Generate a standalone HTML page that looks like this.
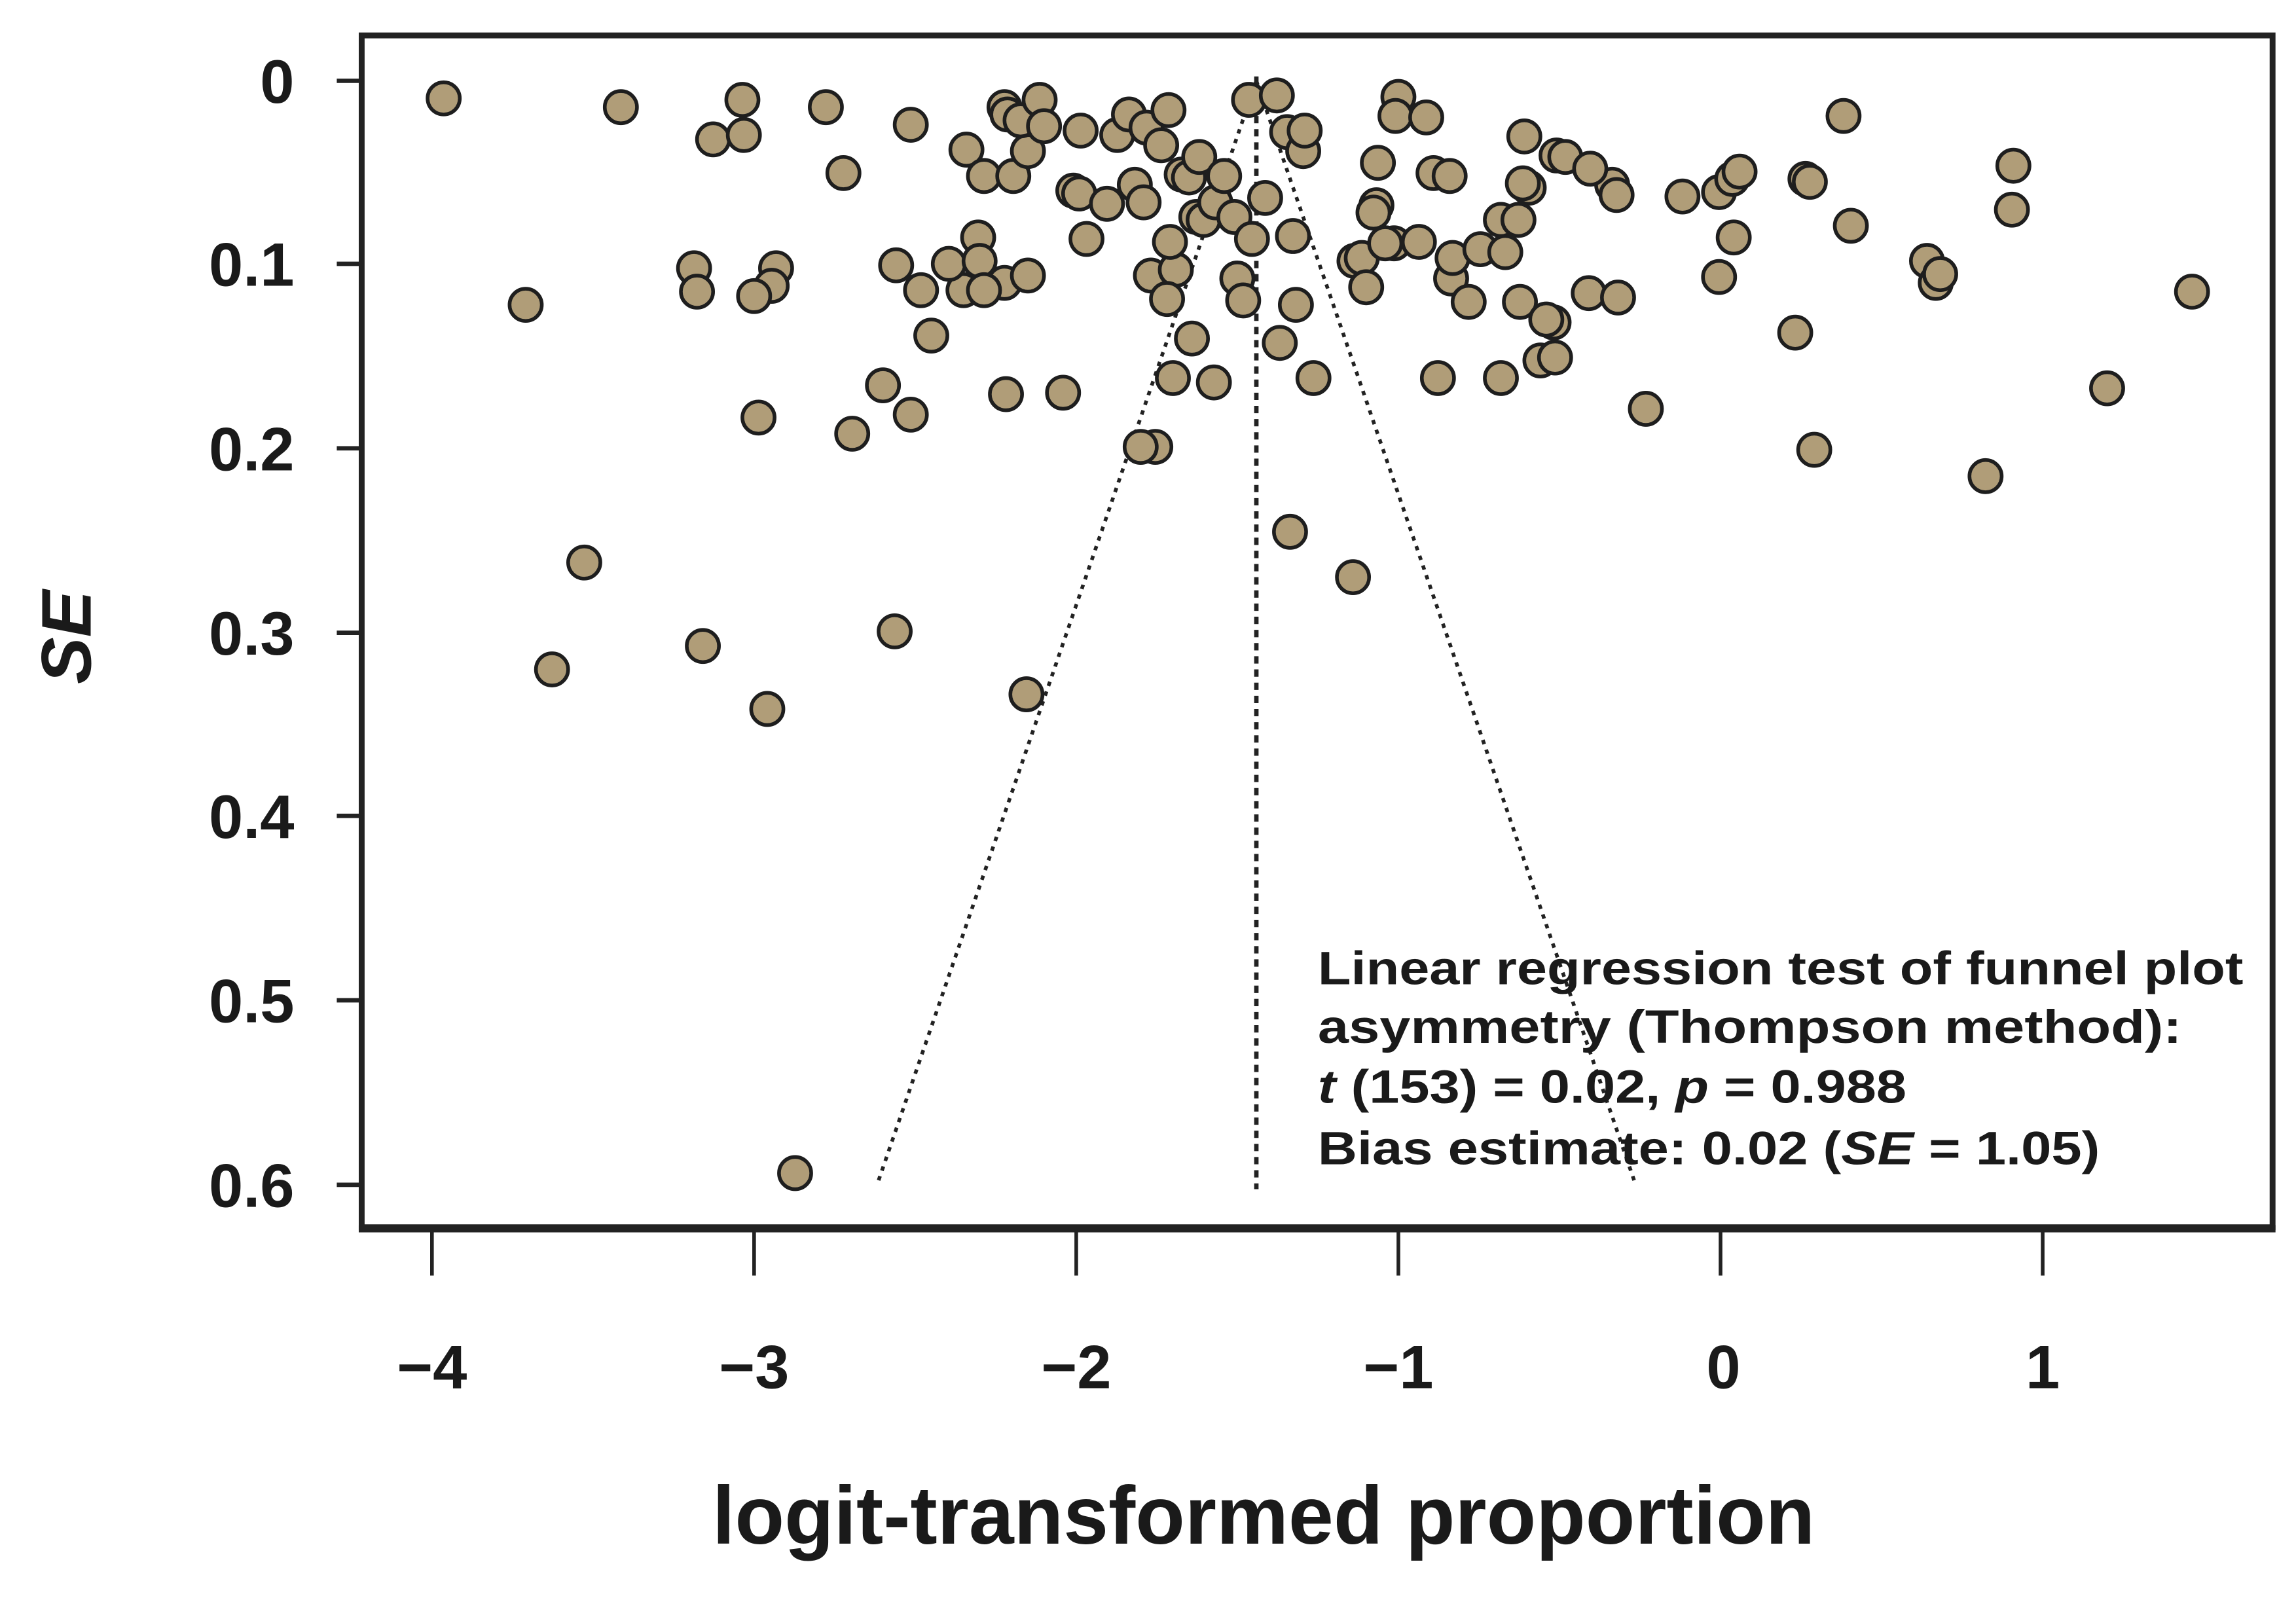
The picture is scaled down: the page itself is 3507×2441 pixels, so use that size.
<!DOCTYPE html>
<html><head><meta charset="utf-8"><style>html,body{margin:0;padding:0;background:#fff}svg{display:block}</style></head>
<body>
<svg width="3507" height="2441" viewBox="0 0 1568 1091" xmlns="http://www.w3.org/2000/svg" font-family="Liberation Sans, sans-serif" font-weight="bold" fill="#1a1a1a">
<rect x="0" y="0" width="1568" height="1091" fill="#fff"/>
<rect x="247" y="24" width="1305" height="814" fill="none" stroke="#222" stroke-width="4"/>
<line x1="245" y1="839" x2="1554" y2="839" stroke="#222" stroke-width="5"/>
<g stroke="#222" stroke-width="3">
<line x1="230" y1="55" x2="247" y2="55"/><line x1="230" y1="180" x2="247" y2="180"/><line x1="230" y1="306" x2="247" y2="306"/><line x1="230" y1="432" x2="247" y2="432"/><line x1="230" y1="557" x2="247" y2="557"/><line x1="230" y1="683" x2="247" y2="683"/><line x1="230" y1="809" x2="247" y2="809"/>
</g>
<g stroke="#222" stroke-width="2.5">
<line x1="295" y1="841" x2="295" y2="871"/><line x1="515" y1="841" x2="515" y2="871"/><line x1="735" y1="841" x2="735" y2="871"/><line x1="955" y1="841" x2="955" y2="871"/><line x1="1175" y1="841" x2="1175" y2="871"/><line x1="1395" y1="841" x2="1395" y2="871"/>
</g>
<g font-size="42" text-anchor="end">
<text x="201" y="70">0</text><text x="201" y="195">0.1</text><text x="201" y="321">0.2</text><text x="201" y="447">0.3</text><text x="201" y="572">0.4</text><text x="201" y="698">0.5</text><text x="201" y="824">0.6</text>
</g>
<g font-size="42" text-anchor="middle">
<text x="295" y="948">−4</text><text x="515" y="948">−3</text><text x="735" y="948">−2</text><text x="955" y="948">−1</text><text x="1177" y="948">0</text><text x="1395" y="948">1</text>
</g>
<text x="863" y="1054" font-size="56" text-anchor="middle" textLength="753" lengthAdjust="spacingAndGlyphs">logit-transformed proportion</text>
<text transform="translate(62,435) rotate(-90)" font-size="48" font-style="italic" text-anchor="middle">SE</text>
<g fill="none" stroke="#222">
<line x1="858" y1="52" x2="858" y2="812" stroke-width="3" stroke-dasharray="5,4"/>
<line x1="858" y1="55" x2="600" y2="806" stroke-width="2.5" stroke-dasharray="3,4"/>
<line x1="858" y1="55" x2="1116" y2="806" stroke-width="2.5" stroke-dasharray="3,4"/>
</g>
<g fill="#b09d78" stroke="#1e1e1e" stroke-width="2.5">
<circle cx="303" cy="67" r="11"/><circle cx="424" cy="73" r="11"/><circle cx="507" cy="68" r="11"/><circle cx="487" cy="95" r="11"/><circle cx="508" cy="92" r="11"/><circle cx="564" cy="73" r="11"/><circle cx="622" cy="85" r="11"/><circle cx="576" cy="118" r="11"/><circle cx="474" cy="183" r="11"/><circle cx="476" cy="199" r="11"/><circle cx="530" cy="183" r="11"/><circle cx="527" cy="195" r="11"/><circle cx="515" cy="202" r="11"/><circle cx="359" cy="208" r="11"/><circle cx="518" cy="285" r="11"/><circle cx="399" cy="384" r="11"/><circle cx="377" cy="457" r="11"/><circle cx="480" cy="441" r="11"/><circle cx="524" cy="484" r="11"/><circle cx="543" cy="801" r="11"/><circle cx="582" cy="296" r="11"/><circle cx="612" cy="181" r="11"/><circle cx="603" cy="263" r="11"/><circle cx="622" cy="283" r="11"/><circle cx="611" cy="431" r="11"/><circle cx="629" cy="198" r="11"/><circle cx="636" cy="229" r="11"/><circle cx="658" cy="198" r="11"/><circle cx="648" cy="180" r="11"/><circle cx="668" cy="162" r="11"/><circle cx="669" cy="178" r="11"/><circle cx="660" cy="102" r="11"/><circle cx="672" cy="120" r="11"/><circle cx="686" cy="193" r="11"/><circle cx="672" cy="198" r="11"/><circle cx="702" cy="188" r="11"/><circle cx="687" cy="269" r="11"/><circle cx="701" cy="474" r="11"/><circle cx="692" cy="120" r="11"/><circle cx="686" cy="73" r="11"/><circle cx="688" cy="78" r="11"/><circle cx="702" cy="103" r="11"/><circle cx="697" cy="82" r="11"/><circle cx="710" cy="68" r="11"/><circle cx="713" cy="86" r="11"/><circle cx="738" cy="89" r="11"/><circle cx="733" cy="130" r="11"/><circle cx="737" cy="132" r="11"/><circle cx="742" cy="163" r="11"/><circle cx="726" cy="268" r="11"/><circle cx="756" cy="139" r="11"/><circle cx="763" cy="92" r="11"/><circle cx="771" cy="78" r="11"/><circle cx="775" cy="126" r="11"/><circle cx="781" cy="138" r="11"/><circle cx="783" cy="87" r="11"/><circle cx="793" cy="99" r="11"/><circle cx="798" cy="75" r="11"/><circle cx="786" cy="188" r="11"/><circle cx="803" cy="184" r="11"/><circle cx="789" cy="305" r="11"/><circle cx="779" cy="305" r="11"/><circle cx="797" cy="204" r="11"/><circle cx="801" cy="258" r="11"/><circle cx="799" cy="165" r="11"/><circle cx="807" cy="119" r="11"/><circle cx="812" cy="121" r="11"/><circle cx="814" cy="231" r="11"/><circle cx="819" cy="107" r="11"/><circle cx="817" cy="148" r="11"/><circle cx="822" cy="150" r="11"/><circle cx="829" cy="261" r="11"/><circle cx="830" cy="138" r="11"/><circle cx="836" cy="120" r="11"/><circle cx="843" cy="148" r="11"/><circle cx="845" cy="190" r="11"/><circle cx="849" cy="205" r="11"/><circle cx="853" cy="68" r="11"/><circle cx="855" cy="163" r="11"/><circle cx="864" cy="135" r="11"/><circle cx="872" cy="65" r="11"/><circle cx="879" cy="90" r="11"/><circle cx="890" cy="103" r="11"/><circle cx="891" cy="89" r="11"/><circle cx="885" cy="208" r="11"/><circle cx="883" cy="161" r="11"/><circle cx="874" cy="234" r="11"/><circle cx="881" cy="363" r="11"/><circle cx="897" cy="258" r="11"/><circle cx="924" cy="394" r="11"/><circle cx="925" cy="178" r="11"/><circle cx="930" cy="176" r="11"/><circle cx="933" cy="196" r="11"/><circle cx="940" cy="140" r="11"/><circle cx="938" cy="145" r="11"/><circle cx="941" cy="111" r="11"/><circle cx="952" cy="166" r="11"/><circle cx="955" cy="66" r="11"/><circle cx="953" cy="79" r="11"/><circle cx="946" cy="166" r="11"/><circle cx="974" cy="80" r="11"/><circle cx="969" cy="165" r="11"/><circle cx="979" cy="118" r="11"/><circle cx="990" cy="120" r="11"/><circle cx="991" cy="190" r="11"/><circle cx="992" cy="176" r="11"/><circle cx="982" cy="258" r="11"/><circle cx="1003" cy="206" r="11"/><circle cx="1011" cy="170" r="11"/><circle cx="1025" cy="150" r="11"/><circle cx="1028" cy="172" r="11"/><circle cx="1025" cy="258" r="11"/><circle cx="1041" cy="93" r="11"/><circle cx="1044" cy="128" r="11"/><circle cx="1040" cy="125" r="11"/><circle cx="1038" cy="206" r="11"/><circle cx="1052" cy="246" r="11"/><circle cx="1062" cy="244" r="11"/><circle cx="1061" cy="220" r="11"/><circle cx="1063" cy="106" r="11"/><circle cx="1069" cy="107" r="11"/><circle cx="1085" cy="200" r="11"/><circle cx="1101" cy="126" r="11"/><circle cx="1104" cy="133" r="11"/><circle cx="1105" cy="203" r="11"/><circle cx="1124" cy="279" r="11"/><circle cx="1149" cy="134" r="11"/><circle cx="1174" cy="131" r="11"/><circle cx="1174" cy="189" r="11"/><circle cx="1184" cy="162" r="11"/><circle cx="1183" cy="122" r="11"/><circle cx="1188" cy="117" r="11"/><circle cx="1226" cy="227" r="11"/><circle cx="1233" cy="122" r="11"/><circle cx="1236" cy="124" r="11"/><circle cx="1239" cy="307" r="11"/><circle cx="1259" cy="79" r="11"/><circle cx="1264" cy="154" r="11"/><circle cx="1316" cy="178" r="11"/><circle cx="1322" cy="193" r="11"/><circle cx="1325" cy="187" r="11"/><circle cx="1356" cy="325" r="11"/><circle cx="1375" cy="113" r="11"/><circle cx="1374" cy="143" r="11"/><circle cx="1439" cy="265" r="11"/><circle cx="1497" cy="199" r="11"/><circle cx="1056" cy="218" r="11"/><circle cx="1086" cy="115" r="11"/><circle cx="1037" cy="150" r="11"/>
</g>
<g font-size="32">
<text x="900" y="672" textLength="632" lengthAdjust="spacingAndGlyphs">Linear regression test of funnel plot</text>
<text x="900" y="712" textLength="590" lengthAdjust="spacingAndGlyphs">asymmetry (Thompson method):</text>
<text x="900" y="753" textLength="402" lengthAdjust="spacingAndGlyphs"><tspan font-style="italic">t</tspan> (153) = 0.02, <tspan font-style="italic">p</tspan> = 0.988</text>
<text x="900" y="795" textLength="534" lengthAdjust="spacingAndGlyphs">Bias estimate: 0.02 (<tspan font-style="italic">SE</tspan> = 1.05)</text>
</g>
</svg>
</body></html>
